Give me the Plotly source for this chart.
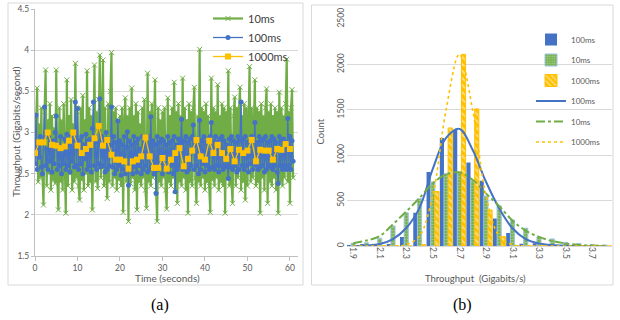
import plotly.graph_objects as go

# ---------------- (a) time series ----------------
# 10 ms samples (shown every 0.25 s)
tp_10ms = [
    2.62, 3.2, 3.54, 2.4,   3.1, 2.45, 3.3, 2.5,   2.12, 3.25, 3.76, 2.35,  3.15, 2.5, 3.35, 2.3,
    3.2, 2.42, 3.05, 2.38,  3.76, 2.45, 2.06, 3.3,  2.4, 3.15, 2.3, 3.35,   2.45, 2.02, 3.64, 2.35,
    3.2, 2.5, 3.4, 2.3,     3.1, 2.4, 3.84, 2.45,   3.25, 2.35, 2.18, 3.3,  2.42, 3.45, 2.3, 3.15,
    2.5, 3.75, 2.35, 3.3,   2.4, 3.2, 2.06, 3.35,   3.82, 2.4, 3.25, 2.32,  3.4, 3.94, 2.45, 3.2,
    3.88, 2.35, 3.3, 2.5,   2.20, 3.35, 2.4, 3.5,   3.97, 2.35, 3.25, 2.45, 3.3, 2.3, 3.15, 2.42,
    3.2, 2.35, 3.3, 2.03,   3.1, 3.42, 2.4, 3.2,    1.92, 3.3, 2.38, 3.54,  2.45, 3.2, 2.3, 3.35,
    2.06, 3.25, 2.4, 3.1,   2.35, 3.3, 2.45, 3.4,   2.3, 2.08, 3.72, 2.4,   3.25, 2.35, 3.35, 2.45,
    3.2, 3.64, 2.3, 1.92,   3.3, 2.4, 3.15, 2.35,   3.25, 2.45, 3.3, 2.3,   2.07, 3.42, 2.4, 3.2,
    2.35, 3.3, 2.45, 3.61,  2.3, 3.25, 2.14, 3.35,  2.4, 3.2, 2.35, 3.66,   2.45, 3.3, 2.3, 3.15,
    2.02, 3.35, 2.4, 3.25,  2.35, 3.3, 3.55, 2.45,  2.14, 3.2, 2.4, 4.01,   2.35, 3.3, 2.45, 3.25,
    2.3, 3.35, 2.4, 3.2,    2.35, 2.03, 3.66, 2.42, 3.3, 2.35, 3.25, 2.45,  3.58, 2.3, 3.2, 2.4,
    3.35, 2.35, 3.3, 2.02,  3.25, 2.45, 3.75, 2.35, 3.3, 2.4, 2.14, 3.2,    3.43, 2.35, 3.3, 2.45,
    3.25, 3.55, 2.3, 3.2,   2.4, 3.35, 2.18, 3.3,   2.35, 3.25, 3.80, 2.4,  3.3, 2.45, 3.2, 3.64,
    2.35, 3.3, 2.4, 3.25,   2.02, 3.35, 2.45, 3.2,  2.3, 3.3, 3.53, 2.14,   3.25, 2.4, 3.35, 2.35,
    3.2, 2.45, 3.3, 2.3,    3.25, 2.02, 3.49, 2.4,  3.3, 2.35, 3.2, 2.45,   3.35, 3.89, 2.4, 3.25,
    2.14, 3.3, 3.52, 2.45,
]
# 100 ms samples (shown every 0.25 s)
tp_100ms = [
    2.62, 3.21, 2.55, 2.85,  2.7, 2.95, 2.58, 2.50,  2.9, 3.31, 2.6, 2.8,    2.55, 2.95, 2.65, 2.88,
    2.52, 2.9, 2.62, 3.0,    3.20, 2.55, 2.85, 2.6,  2.95, 2.5, 2.8, 2.62,   2.92, 2.55, 2.98, 2.6,
    2.85, 2.52, 2.95, 2.65,  2.9, 2.58, 3.37, 2.6,   3.29, 2.55, 2.9, 2.62,  2.95, 2.5, 2.85, 2.68,
    2.98, 2.55, 2.9, 2.6,    2.92, 2.52, 3.05, 3.37, 2.6, 2.95, 2.55, 2.88,  2.62, 3.41, 2.58, 2.95,
    2.6, 2.9, 2.52, 3.0,     2.55, 2.92, 2.6, 2.85,  3.31, 2.58, 2.95, 2.5,  2.88, 2.55, 3.14, 2.6,
    2.9, 2.48, 2.85, 2.55,   2.95, 2.5, 2.82, 3.01,  2.36, 2.9, 2.55, 2.85,  2.5, 2.95, 2.58, 2.88,
    2.52, 2.92, 2.6, 2.8,    2.5, 2.95, 2.55, 2.9,   2.6, 2.85, 2.52, 2.95,  2.55, 3.19, 2.6, 2.9,
    2.5, 2.85, 2.26, 2.95,   2.55, 2.88, 2.6, 2.92,  2.5, 2.9, 2.58, 2.85,   2.55, 2.95, 2.52, 2.88,
    2.6, 2.9, 2.5, 2.95,     2.28, 2.85, 2.55, 2.92, 2.6, 2.88, 3.16, 2.55,  2.9, 2.6, 2.95, 2.52,
    2.88, 2.55, 2.92, 2.6,   2.95, 3.09, 2.55, 2.85, 2.6, 2.92, 2.5, 3.15,   2.55, 2.9, 2.62, 2.95,
    2.52, 2.88, 2.6, 2.92,   2.55, 2.95, 3.12, 2.58, 2.9, 2.55, 2.95, 2.6,   2.88, 2.52, 2.92, 2.6,
    2.95, 2.55, 2.9, 2.58,   2.85, 2.6, 2.44, 2.92,  2.58, 2.95, 2.55, 2.9,  2.6, 2.88, 2.52, 2.95,
    2.55, 2.9, 3.37, 2.6,    2.92, 2.55, 2.95, 2.6,  2.88, 2.52, 2.9, 2.62,  2.95, 2.55, 2.92, 3.12,
    2.6, 2.88, 2.55, 2.95,   2.58, 2.9, 2.6, 2.92,   2.52, 2.95, 2.55, 2.88, 2.6, 2.9, 2.58, 2.95,
    2.55, 2.92, 2.6, 2.88,   2.52, 2.38, 2.95, 2.6,  2.9, 2.55, 2.92, 2.6,   2.88, 2.55, 3.17, 2.6,
    2.95, 2.55, 2.9, 2.65,
]
# 1000 ms samples (one per second)
tp_1000ms = [
    2.75, 2.88, 2.88, 3.00, 2.85, 2.84, 2.81, 2.83, 2.90, 3.00,
    2.84, 2.75, 2.80, 2.85, 2.93, 3.08, 2.84, 2.91, 2.73, 2.67,
    2.67, 2.65, 2.56, 2.65, 2.67, 2.71, 2.94, 2.71, 2.57, 2.57,
    2.69, 2.56, 2.67, 2.75, 2.81, 2.59, 2.68, 2.78, 2.91, 2.71,
    2.67, 2.90, 2.75, 2.85, 2.75, 2.68, 2.80, 2.65, 2.79, 2.75,
    2.78, 2.91, 2.65, 2.79, 2.78, 2.78, 2.67, 2.80, 2.79, 2.86,
    2.80,
]
t_fine_10 = [i * 0.25 for i in range(len(tp_10ms))]
t_fine_100 = [i * 0.25 for i in range(len(tp_100ms))]
t_sec = list(range(len(tp_1000ms)))

# ---------------- (b) histogram ----------------
bins = [1.9, 2.0, 2.1, 2.2, 2.3, 2.4, 2.5, 2.6, 2.7, 2.8,
        2.9, 3.0, 3.1, 3.2, 3.3, 3.4, 3.5, 3.6, 3.7, 3.8]
cnt_100ms = [2, 15, 5, 20, 100, 365, 815, 1190, 1280, 920,
             718, 304, 143, 25, 30, 10, 5, 3, 2, 0]
cnt_10ms = [30, 35, 85, 220, 365, 520, 705, 798, 817, 718,
            550, 440, 286, 196, 100, 78, 40, 28, 15, 10]
cnt_1000ms = [0, 0, 0, 0, 0, 15, 600, 1300, 2110, 1510,
              396, 103, 5, 0, 0, 0, 0, 0, 0, 0]
fit_100ms = [0, 5, 22, 77, 198, 420, 850, 1190, 1290, 1060,
             710, 415, 195, 77, 29, 10, 3, 1, 0, 0]
fit_10ms = [30, 60, 110, 240, 380, 530, 690, 790, 810, 730,
            580, 440, 280, 170, 100, 55, 28, 12, 5, 2]
fit_1000ms = [0, 0, 0, 0, 15, 110, 560, 1500, 2110, 1500,
              560, 110, 15, 0, 0, 0, 0, 0, 0, 0]
hist_ticks = [1.9, 2.1, 2.3, 2.5, 2.7, 2.9, 3.1, 3.3, 3.5, 3.7]

BLUE = "#4472C4"
GREEN = "#70AD47"
GOLD = "#FFC000"
GRID = "#d9d9d9"
TXT = "#595959"
FONT = "Lato"
W, H = 620, 320

fig = go.Figure()

# left panel traces
fig.add_trace(go.Scatter(
    x=t_fine_10, y=tp_10ms, name="10ms", mode="lines+markers",
    line=dict(color=GREEN, width=2.2),
    marker=dict(symbol="x-thin", size=5, color=GREEN, line=dict(color=GREEN, width=1)),
    xaxis="x", yaxis="y", legend="legend"))
fig.add_trace(go.Scatter(
    x=t_fine_100, y=tp_100ms, name="100ms", mode="lines+markers",
    line=dict(color=BLUE, width=1.3),
    marker=dict(symbol="circle", size=5, color=BLUE),
    xaxis="x", yaxis="y", legend="legend"))
fig.add_trace(go.Scatter(
    x=t_sec, y=tp_1000ms, name="1000ms", mode="lines+markers",
    line=dict(color=GOLD, width=1.3),
    marker=dict(symbol="square", size=6, color=GOLD),
    xaxis="x", yaxis="y", legend="legend"))

# right panel: bars
fig.add_trace(go.Bar(
    x=bins, y=cnt_100ms, name="100ms", marker=dict(color=BLUE, line=dict(width=0)),
    xaxis="x2", yaxis="y2", legend="legend2", legendgroup="b1"))
fig.add_trace(go.Bar(
    x=bins, y=cnt_10ms, name="10ms",
    marker=dict(color=GREEN, line=dict(color="#9DC3E6", width=1),
                pattern=dict(shape=".", fgcolor="#e2f0d9", fillmode="overlay", size=3, solidity=0.4)),
    xaxis="x2", yaxis="y2", legend="legend2", legendgroup="b2"))
fig.add_trace(go.Bar(
    x=bins, y=cnt_1000ms, name="1000ms",
    marker=dict(color=GOLD, line=dict(color=GOLD, width=1),
                pattern=dict(shape="\\", fgcolor="white", fillmode="overlay", size=5, solidity=0.35)),
    xaxis="x2", yaxis="y2", legend="legend2", legendgroup="b3"))
# right panel: fitted curves
fig.add_trace(go.Scatter(
    x=bins, y=fit_100ms, name="100ms", mode="lines",
    line=dict(color=BLUE, width=2, shape="spline", smoothing=1.0),
    xaxis="x2", yaxis="y2", legend="legend2", legendgroup="l1"))
fig.add_trace(go.Scatter(
    x=bins, y=fit_10ms, name="10ms", mode="lines",
    line=dict(color=GREEN, width=2, dash="dashdot", shape="spline", smoothing=1.0),
    xaxis="x2", yaxis="y2", legend="legend2", legendgroup="l2"))
fig.add_trace(go.Scatter(
    x=bins, y=fit_1000ms, name="1000ms", mode="lines",
    line=dict(color=GOLD, width=1.6, dash="dot", shape="spline", smoothing=1.0),
    xaxis="x2", yaxis="y2", legend="legend2", legendgroup="l3"))

def px_x(p):
    return p / W

def px_y(p):
    return 1 - p / H

tickfont = dict(family=FONT, size=8.5, color=TXT)

fig.update_layout(
    width=W, height=H, margin=dict(l=0, r=0, t=0, b=0, autoexpand=False),
    paper_bgcolor="white", plot_bgcolor="white",
    font=dict(family=FONT, color=TXT),
    barmode="group", bargap=0.06, bargroupgap=0.0,
    xaxis=dict(domain=[px_x(35), px_x(298)], range=[0, 61.9],
               tickvals=[0, 10, 20, 30, 40, 50, 60], tickfont=tickfont,
               showgrid=False, zeroline=False, showline=True, linecolor="#bfbfbf",
               ticks="outside", ticklen=4, tickcolor="#bfbfbf", anchor="y",
               automargin=False),
    yaxis=dict(domain=[px_y(256), px_y(9)], range=[1.5, 4.5],
               tickvals=[1.5, 2, 2.5, 3, 3.5, 4, 4.5],
               ticktext=["1.5", "2", "2.5", "3", "3.5", "4", "4.5"],
               tickfont=tickfont, showgrid=True, gridcolor=GRID, gridwidth=1,
               zeroline=False, showline=True, linecolor="#bfbfbf",
               ticks="outside", ticklen=3, tickcolor="#bfbfbf", anchor="x",
               automargin=False),
    xaxis2=dict(domain=[px_x(346.5), px_x(612)], range=[1.85, 3.85],
                tickvals=hist_ticks, ticktext=[f"{v:.1f}" for v in hist_ticks],
                tickangle=90, tickfont=tickfont, showgrid=False, zeroline=False,
                showline=False, ticks="", anchor="y2", automargin=False),
    yaxis2=dict(domain=[px_y(246), px_y(19)], range=[0, 2500],
                tickvals=[0, 500, 1000, 1500, 2000, 2500], tickangle=-90,
                tickfont=tickfont, showgrid=True, gridcolor=GRID, gridwidth=1,
                zeroline=True, zerolinecolor=GRID, zerolinewidth=1,
                showline=False, ticks="", anchor="x2", automargin=False),
    legend=dict(x=px_x(208), y=px_y(4), xanchor="left", yanchor="top",
                bgcolor="rgba(0,0,0,0)", font=dict(family=FONT, size=11, color="#404040"),
                itemwidth=30, tracegroupgap=0),
    legend2=dict(x=px_x(531), y=px_y(25), xanchor="left", yanchor="top",
                 bgcolor="rgba(0,0,0,0)", font=dict(family=FONT, size=8, color=TXT),
                 itemwidth=30, tracegroupgap=1.5),
    shapes=[
        dict(type="rect", xref="paper", yref="paper",
             x0=px_x(8), x1=px_x(303), y0=px_y(285), y1=px_y(3),
             line=dict(color=GRID, width=1), fillcolor="rgba(0,0,0,0)", layer="below"),
        dict(type="rect", xref="paper", yref="paper",
             x0=px_x(311.5), x1=px_x(613), y0=px_y(285), y1=px_y(5),
             line=dict(color=GRID, width=1), fillcolor="rgba(0,0,0,0)", layer="below"),
    ],
    annotations=[
        dict(text="Throughput (Gigabits/second)", x=px_x(16), y=px_y(132), xref="paper", yref="paper",
             textangle=-90, showarrow=False, xanchor="center", yanchor="middle",
             font=dict(family=FONT, size=10, color=TXT)),
        dict(text="Time (seconds)", x=px_x(167), y=px_y(278), xref="paper", yref="paper",
             showarrow=False, xanchor="center", yanchor="middle",
             font=dict(family=FONT, size=10, color=TXT)),
        dict(text="Count", x=px_x(319.5), y=px_y(132), xref="paper", yref="paper",
             textangle=-90, showarrow=False, xanchor="center", yanchor="middle",
             font=dict(family=FONT, size=9.5, color=TXT)),
        dict(text="Throughput  (Gigabits/s)", x=px_x(475), y=px_y(278), xref="paper", yref="paper",
             showarrow=False, xanchor="center", yanchor="middle",
             font=dict(family=FONT, size=9.5, color=TXT)),
        dict(text="(a)", x=px_x(160), y=px_y(305), xref="paper", yref="paper",
             showarrow=False, xanchor="center", yanchor="middle",
             font=dict(family="Liberation Serif", size=16, color="black")),
        dict(text="(b)", x=px_x(462), y=px_y(305), xref="paper", yref="paper",
             showarrow=False, xanchor="center", yanchor="middle",
             font=dict(family="Liberation Serif", size=16, color="black")),
    ],
)

fig.write_html("out.html", config={"displayModeBar": False},
               post_script="document.body.style.margin='0';document.body.style.padding='0';")
